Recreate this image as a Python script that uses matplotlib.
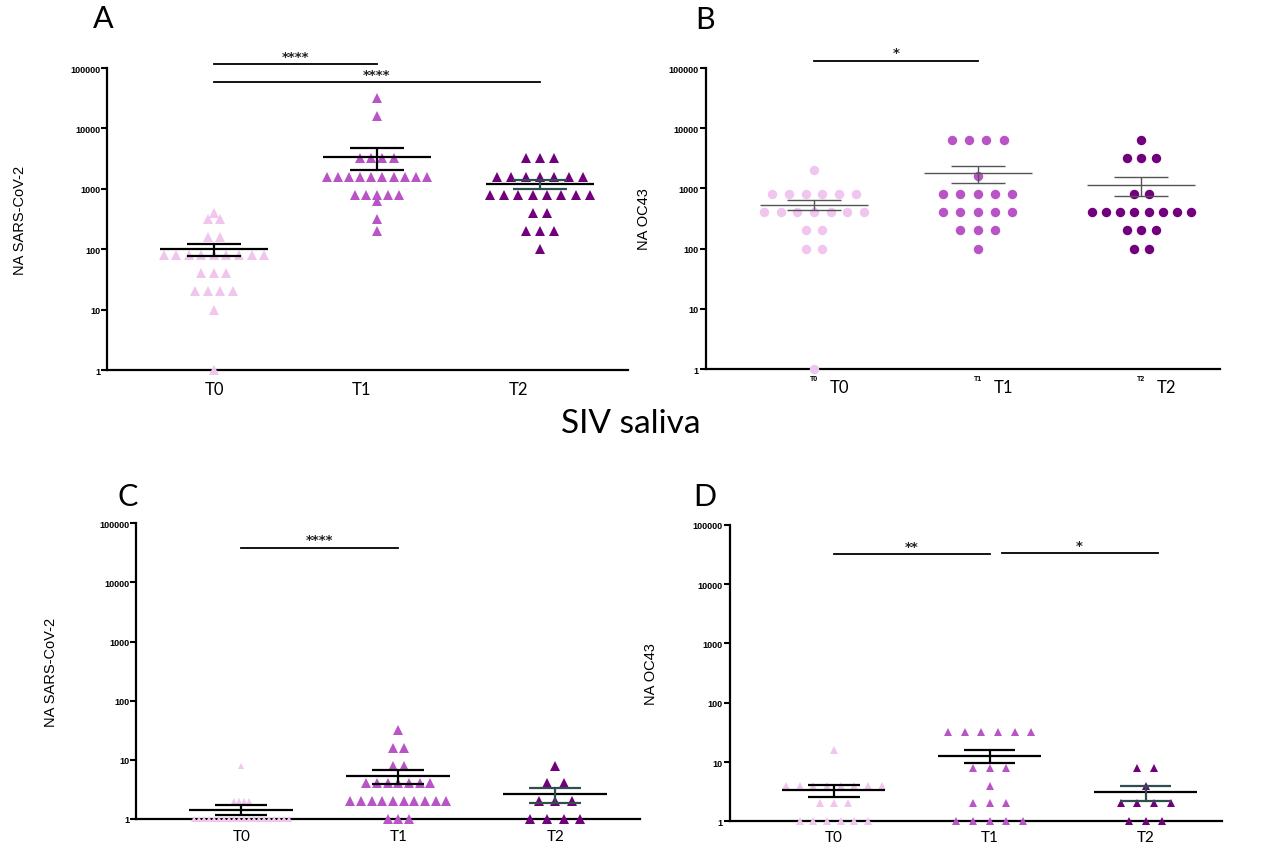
import numpy as np
import matplotlib.pyplot as plt

# groups and colours
groups = ['T0', 'T1', 'T2']
colors = ['#f0c6ef', '#b954c6', '#72007c']

# A - serum NA SARS-CoV-2
a_t0 = [400, 320, 320, 160, 160, 80, 80, 80, 80, 80, 80, 80, 80, 80,
        40, 40, 40, 20, 20, 20, 20, 10, 1]
a_t1 = [32000, 16000, 3200, 3200, 3200, 3200, 1600, 1600, 1600, 1600, 1600,
        1600, 1600, 1600, 1600, 1600, 800, 800, 800, 800, 800, 640, 320, 200]
a_t2 = [3200, 3200, 3200, 1600, 1600, 1600, 1600, 1600, 1600, 1600,
        800, 800, 800, 800, 800, 800, 800, 800, 400, 400, 200, 200, 200, 100]

# B - serum NA OC43
b_t0 = [2000, 800, 800, 800, 800, 800, 800, 400, 400, 400, 400, 400, 400, 400,
        200, 200, 100, 100, 1]
b_t1 = [6400, 6400, 6400, 6400, 1600, 800, 800, 800, 800, 800,
        400, 400, 400, 400, 400, 200, 200, 200, 100]
b_t2 = [6400, 3200, 3200, 3200, 800, 800, 400, 400, 400, 400, 400, 400, 400, 400,
        200, 200, 200, 100, 100]

# C - saliva NA SARS-CoV-2
c_t0 = [8, 2, 2, 2, 2, 1, 1, 1, 1, 1, 1, 1, 1, 1, 1,
        1, 1, 1, 1, 1, 1, 1, 1, 1, 1]
c_t1 = [32, 16, 16, 8, 8, 4, 4, 4, 4, 4, 4, 4,
        2, 2, 2, 2, 2, 2, 2, 2, 2, 2, 1, 1, 1]
c_t2 = [8, 4, 4, 2, 2, 2, 1, 1, 1, 1]

# D - saliva NA OC43
d_t0 = [16, 4, 4, 4, 4, 4, 4, 4, 4, 2, 2, 2, 1, 1, 1, 1, 1, 1]
d_t1 = [32, 32, 32, 32, 32, 32, 8, 8, 8, 4, 2, 2, 2, 1, 1, 1, 1, 1]
d_t2 = [8, 8, 4, 2, 2, 2, 2, 1, 1, 1]

yticks = [1, 10, 100, 1000, 10000, 100000]


def draw_panel(ax, data, marker, msizes, spacing, sem_colors, line_color, lw):
    for i, vals in enumerate(data):
        vals = np.array(vals, dtype=float)
        # simple column scatter: same values side by side in a row
        for v in np.unique(vals):
            n = np.sum(vals == v)
            xs = i + (np.arange(n) - (n - 1) / 2) * spacing[i]
            ax.plot(xs, [v] * n, ls='none', marker=marker, ms=msizes[i],
                    color=colors[i], mew=0, clip_on=False, zorder=3)
        m = vals.mean()
        se = vals.std(ddof=1) / np.sqrt(len(vals))
        ax.hlines(m, i - 0.33, i + 0.33, color=line_color, lw=lw, zorder=4)
        ax.vlines(i, m - se, m + se, color=sem_colors[i], lw=lw, zorder=4)
        ax.hlines([m - se, m + se], i - 0.165, i + 0.165, color=sem_colors[i],
                  lw=lw, zorder=4)


def style_axes(ax, ylabel, label_x, xlim):
    ax.set_yscale('log')
    ax.set_ylim(1, 100000)
    ax.set_xlim(*xlim)
    ax.set_yticks(yticks)
    ax.set_yticklabels([str(t) for t in yticks], fontsize=6.5,
                       fontweight='bold', family='Liberation Sans')
    ax.minorticks_off()
    ax.tick_params(axis='y', length=4, width=1.5, pad=1)
    ax.tick_params(axis='x', length=0)
    for s in ['top', 'right']:
        ax.spines[s].set_visible(False)
    for s in ['left', 'bottom']:
        ax.spines[s].set_linewidth(1.6)
    ax.set_ylabel(ylabel, fontsize=10.5, family='Liberation Sans')
    ax.yaxis.set_label_coords(label_x, 0.5)


def sig_bar(ax, x0, x1, y, text, ty):
    ax.plot([x0, x1], [y, y], color='black', lw=1.3, clip_on=False)
    ax.text((x0 + x1) / 2, ty, text, ha='center', va='center', fontsize=9.5,
            fontweight='bold', color='#222222')


fig = plt.figure(figsize=(12.62, 8.53), dpi=100)

axA = fig.add_axes([0.0848, 0.565, 0.4128, 0.354])
axB = fig.add_axes([0.5594, 0.5662, 0.4073, 0.3529])
axC = fig.add_axes([0.1078, 0.0387, 0.3994, 0.3466])
axD = fig.add_axes([0.5784, 0.036, 0.3899, 0.3474])

teal = '#2f4f4f'

# A
draw_panel(axA, [a_t0, a_t1, a_t2], '^', [6.8, 6.8, 6.8], [0.077, 0.068, 0.088],
           ['black', 'black', teal], 'black', 1.6)
style_axes(axA, 'NA SARS-CoV-2', -0.154, (-0.656, 2.54))
axA.set_xticks([0.006, 0.908, 1.871])
axA.set_xticklabels(groups, fontsize=12, family='Lato')
axA.tick_params(axis='x', pad=8)
sig_bar(axA, 0, 1, 10 ** 5.07, '****', 10 ** 5.2)
sig_bar(axA, 0, 2, 10 ** 4.77, '****', 10 ** 4.9)

# B
draw_panel(axB, [b_t0, b_t1, b_t2], 'o', [6.8, 6.8, 6.8], [0.102, 0.106, 0.087],
           ['#555555', '#555555', '#555555'], '#555555', 1.0)
style_axes(axB, 'NA OC43', -0.107, (-0.66, 2.48))
axB.set_xticks([0, 1, 2])
axB.set_xticklabels(groups, fontsize=5, fontweight='bold',
                    family='Liberation Sans')
axB.tick_params(axis='x', pad=4)
for i, g in enumerate(groups):
    axB.text(i + 0.155, -0.06, g, transform=axB.get_xaxis_transform(),
             ha='center', va='center', fontsize=12, family='Lato')
sig_bar(axB, 0, 1, 10 ** 5.116, '*', 10 ** 5.25)

# C
draw_panel(axC, [c_t0, c_t1, c_t2], '^', [4.2, 6.8, 6.8], [0.032, 0.068, 0.106],
           ['black', 'black', teal], 'black', 1.6)
style_axes(axC, 'NA SARS-CoV-2', -0.155, (-0.67, 2.54))
axC.set_xticks([0, 1, 2])
axC.set_xticklabels(groups, fontsize=11, family='Lato')
axC.tick_params(axis='x', pad=7)
sig_bar(axC, 0, 1, 10 ** 4.59, '****', 10 ** 4.72)

# D
draw_panel(axD, [d_t0, d_t1, d_t2], '^', [6.4, 6.4, 6.4], [0.088, 0.107, 0.107],
           ['black', 'black', teal], 'black', 1.6)
style_axes(axD, 'NA OC43', -0.147, (-0.667, 2.49))
axD.set_xticks([0, 1, 2])
axD.set_xticklabels(groups, fontsize=11, family='Lato')
axD.tick_params(axis='x', pad=6)
sig_bar(axD, 0, 1, 10 ** 4.51, '**', 10 ** 4.64)
sig_bar(axD, 1.077, 2.077, 10 ** 4.53, '*', 10 ** 4.65)

# panel letters and middle title
for letter, x, y in [('A', 103, 19), ('B', 705, 20), ('C', 128, 497), ('D', 705, 497)]:
    fig.text(x / 1262, 1 - y / 853, letter, ha='center', va='center',
             fontsize=22, family='Lato')
fig.text(0.5, 1 - 424 / 853, 'SIV saliva', ha='center', va='center',
         fontsize=24, family='Lato')

fig.savefig('out.png', dpi=100)
